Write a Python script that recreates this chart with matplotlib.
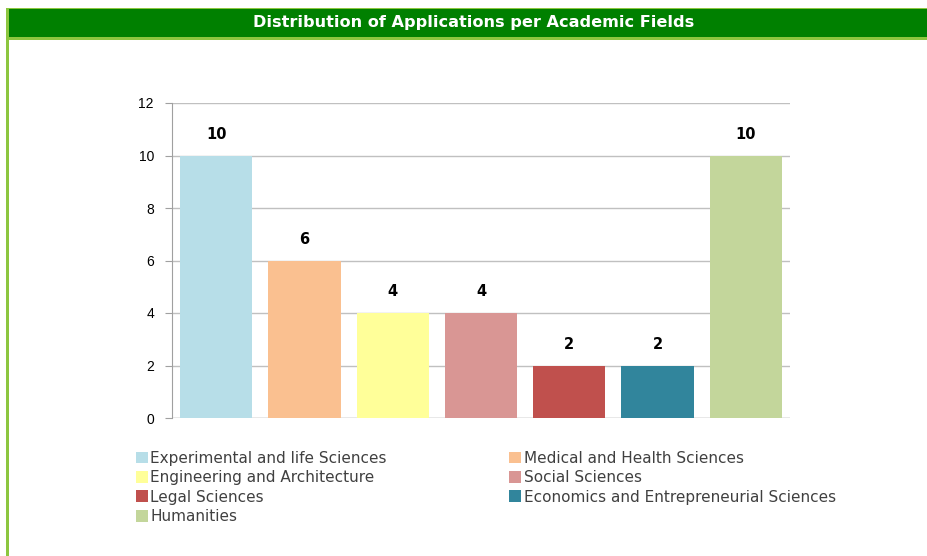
import matplotlib
matplotlib.use("Agg")
import matplotlib.pyplot as plt
from matplotlib.patches import Rectangle, Patch

categories = ["Experimental and life Sciences", "Medical and Health Sciences",
              "Engineering and Architecture", "Social Sciences", "Legal Sciences",
              "Economics and Entrepreneurial Sciences", "Humanities"]
values = [10, 6, 4, 4, 2, 2, 10]
colors = ["#B7DEE8", "#FAC090", "#FFFF99", "#D99694", "#C0504D", "#31859C", "#C3D69B"]
yticks = [0, 2, 4, 6, 8, 10, 12]
title = "Distribution of Applications per Academic Fields"

W, H = 928, 556
fig = plt.figure(figsize=(W / 100, H / 100), dpi=100)
fig.patch.set_facecolor("white")

def fx(px):
    return px / W

def fy(py):
    return 1 - py / H

# frame / title bar
light = "#8CC63F"
fig.patches.append(Rectangle((fx(6.5), fy(39.5)), fx(930), 32 / H, transform=fig.transFigure,
                             facecolor=light, edgecolor="none", zorder=0))
fig.patches.append(Rectangle((fx(8.5), fy(37)), fx(930), 28 / H, transform=fig.transFigure,
                             facecolor="#008000", edgecolor="none", zorder=1))
fig.patches.append(Rectangle((fx(6.5), 0), 2 / W, fy(7.5), transform=fig.transFigure,
                             facecolor=light, edgecolor="none", zorder=1))
fig.text(fx(474), fy(23), title, color="white", fontsize=11.6, fontweight="bold",
         ha="center", va="center", family="DejaVu Sans")

# axes
ax = fig.add_axes([fx(172), fy(418), fx(790 - 172), (418 - 103) / H])
x = list(range(len(values)))
bars = ax.bar(x, values, width=0.82, color=colors, zorder=3)
ax.set_xlim(-0.5, len(values) - 0.5)
ax.set_ylim(0, 12)
ax.set_yticks(yticks)
ax.set_yticklabels([str(t) for t in yticks], fontsize=10, family="Liberation Sans")
ax.set_xticks([])
ax.grid(axis="y", color="#C0C0C0", linewidth=1, zorder=0)
for s in ["top", "right", "bottom"]:
    ax.spines[s].set_visible(False)
ax.spines["left"].set_color("#A0A0A0")
ax.tick_params(axis="y", length=5, color="#A0A0A0", pad=8)
ax.axhline(0, color="#C0C0C0", linewidth=1, zorder=1)

for xi, v in zip(x, values):
    ax.annotate(str(v), (xi, v), xytext=(0, 10), textcoords="offset points",
                ha="center", va="bottom", fontsize=10.5, fontweight="bold",
                family="DejaVu Sans")

# legend (row-major order in a 2-column layout)
handles = [Patch(facecolor=c, edgecolor="none") for c in colors]
order = [0, 2, 4, 6, 1, 3, 5]
leg = fig.legend([handles[i] for i in order], [categories[i] for i in order],
                 ncol=2, loc="upper left", bbox_to_anchor=(fx(122), fy(437)),
                 frameon=False, handlelength=0.8, handleheight=0.8,
                 handletextpad=0.15, labelspacing=0.29, columnspacing=8.0,
                 prop={"family": "DejaVu Sans", "size": 11})
for t in leg.get_texts():
    t.set_color("#404040")

fig.savefig("out.png", dpi=100)
